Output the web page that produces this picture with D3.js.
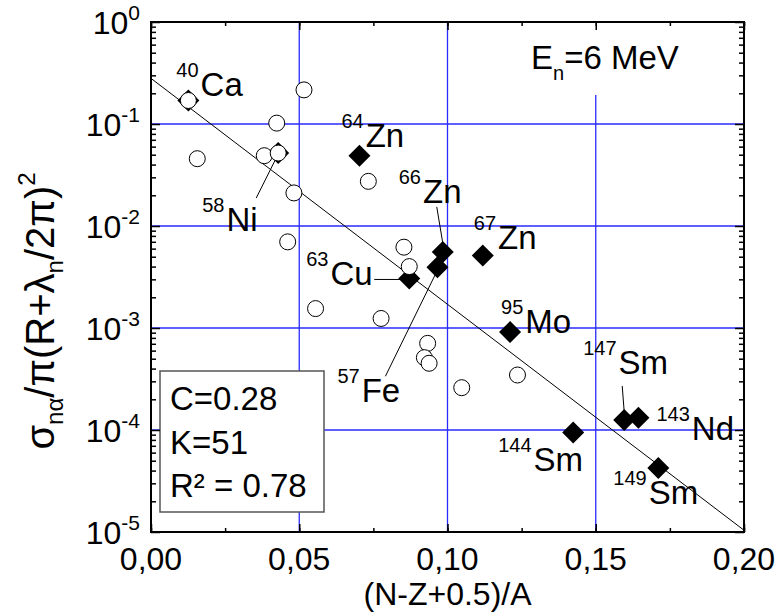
<!DOCTYPE html>
<html>
<head>
<meta charset="utf-8">
<script src="https://cdn.jsdelivr.net/npm/d3@7"></script>
<style>
  html, body { margin: 0; padding: 0; background: #fff; }
  svg text { font-family: "Liberation Sans", Arial, sans-serif; fill: #000; }
</style>
</head>
<body>
<svg id="chart" width="780" height="612"></svg>
<script>
// ---------------- data ----------------
const xTickValues = [0, 0.05, 0.10, 0.15, 0.20];
const xTickLabels = ["0,00", "0,05", "0,10", "0,15", "0,20"];
const yTickValues = [1, 1e-1, 1e-2, 1e-3, 1e-4, 1e-5];
const yTickExponents = ["0", "-1", "-2", "-3", "-4", "-5"];

// open circles (unlabelled nuclei)
const openX = [0.0156, 0.0424, 0.0382, 0.0482, 0.0516, 0.0733, 0.0461, 0.0853,
               0.0871, 0.0555, 0.0776, 0.0933, 0.0922, 0.0938, 0.1048, 0.1236,
               0.0126, 0.0429];
const openY = [0.0457, 0.102, 0.0489, 0.0211, 0.216, 0.0274, 0.00699, 0.0062,
               0.0040, 0.00155, 0.00124, 0.000707, 0.000512, 0.000451, 0.00026, 0.000346,
               0.170, 0.0519];

// filled diamonds (labelled nuclei)
const nucMass   = ["40", "58", "64", "63", "66", "57", "67", "95", "144", "147", "143", "149"];
const nucName   = ["Ca", "Ni", "Zn", "Cu", "Zn", "Fe", "Zn", "Mo", "Sm", "Sm", "Nd", "Sm"];
const nucX      = [0.0126, 0.0429, 0.0703, 0.0871, 0.0984, 0.0966, 0.1119, 0.1211, 0.1424, 0.1596, 0.1644, 0.1711];
const nucY      = [0.170, 0.0519, 0.0489, 0.00306, 0.00557, 0.00394, 0.00513, 0.000912, 9.45e-5, 1.256e-4, 1.32e-4, 4.23e-5];

// fit parameters  y = C * exp(-K x)
const fitC = 0.28;
const fitK = 51;
const fitR2 = "0.78";
const energyLabel = "6 MeV";

// ---------------- layout ----------------
const W = 780, H = 612;
const margin = { left: 151, right: 36, top: 22, bottom: 80 };
const plotL = margin.left, plotR = W - margin.right, plotT = margin.top, plotB = H - margin.bottom;

// label offsets (px, relative to marker): [labelDx, labelDy(baseline), leader]
const labelLayout = [
  { dx: -12, dy: -4 },
  { dx: -76, dy: 78, lead: [-22, 45, -2, 5] },
  { dx: -18, dy: -9 },
  { dx: -103, dy: 7, lead: [-35, 1, -7, 1] },
  { dx: -44, dy: -49, lead: [-6, -45, 0, -9] },
  { dx: -100, dy: 135, lead: [-52, 109, -2, 7] },
  { dx: -9, dy: -7 },
  { dx: -9, dy: 1 },
  { dx: -75, dy: 38 },
  { dx: -41, dy: -46, lead: [-2, -34, 0, -8] },
  { dx: 18, dy: 22 },
  { dx: -45, dy: 36 }
];

const bigFont = 33, supFont = 20;

// ---------------- scales ----------------
const x = d3.scaleLinear().domain([0, 0.2]).range([plotL, plotR]);
const y = d3.scaleLog().domain([1e-5, 1]).range([plotB, plotT]);

const svg = d3.select("#chart");

// grid lines
const grid = svg.append("g").attr("stroke", "#2a2aff").attr("stroke-width", 1.3);
grid.selectAll("line.h").data(yTickValues.slice(1, 5)).enter().append("line").attr("class", "h")
  .attr("x1", plotL).attr("x2", plotR).attr("y1", d => y(d)).attr("y2", d => y(d));
grid.selectAll("line.v").data(xTickValues.slice(1, 4)).enter().append("line").attr("class", "v")
  .attr("y1", plotT).attr("y2", plotB).attr("x1", d => x(d)).attr("x2", d => x(d));

// white background for energy label
svg.append("rect").attr("x", 522).attr("y", plotT + 1).attr("width", 170).attr("height", 72).attr("fill", "#fff");

// fit line
svg.append("line")
  .attr("x1", x(0)).attr("y1", y(fitC))
  .attr("x2", x(0.2)).attr("y2", y(fitC * Math.exp(-fitK * 0.2)))
  .attr("stroke", "#000").attr("stroke-width", 1);

// leader lines
const leaders = svg.append("g").attr("stroke", "#000").attr("stroke-width", 1);
nucX.forEach((vx, i) => {
  const L = labelLayout[i].lead;
  if (!L) return;
  const cx = x(vx), cy = y(nucY[i]);
  leaders.append("line").attr("x1", cx + L[0]).attr("y1", cy + L[1]).attr("x2", cx + L[2]).attr("y2", cy + L[3]);
});

// diamonds
const dSize = 11;
svg.append("g").selectAll("path").data(d3.range(nucX.length)).enter().append("path")
  .attr("d", i => {
    const cx = x(nucX[i]), cy = y(nucY[i]);
    return `M${cx},${cy - dSize}L${cx + dSize},${cy}L${cx},${cy + dSize}L${cx - dSize},${cy}Z`;
  })
  .attr("fill", "#000");

// open circles
svg.append("g").selectAll("circle").data(d3.range(openX.length)).enter().append("circle")
  .attr("cx", i => x(openX[i])).attr("cy", i => y(openY[i])).attr("r", 8)
  .attr("fill", "#fff").attr("stroke", "#000").attr("stroke-width", 1);

// nucleus labels
const labels = svg.append("g");
nucX.forEach((vx, i) => {
  const lay = labelLayout[i];
  const t = labels.append("text")
    .attr("x", x(vx) + lay.dx).attr("y", y(nucY[i]) + lay.dy);
  t.append("tspan").attr("font-size", supFont).attr("dy", -19).text(nucMass[i]);
  t.append("tspan").attr("font-size", bigFont).attr("dy", 19).attr("dx", 2).text(nucName[i]);
});

// legend box
const lg = svg.append("g");
lg.append("rect").attr("x", 160).attr("y", 371).attr("width", 164).attr("height", 141)
  .attr("fill", "#fff").attr("stroke", "#555").attr("stroke-width", 1.5);
const legendLines = ["C=" + fitC, "K=" + fitK, "R\u00B2 = " + fitR2];
lg.selectAll("text").data(legendLines).enter().append("text")
  .attr("x", 170).attr("y", (d, i) => 410 + i * 43.5)
  .attr("font-size", bigFont).text(d => d);

// energy label
const en = svg.append("text").attr("x", 531).attr("y", 69).attr("font-size", bigFont);
en.append("tspan").text("E");
en.append("tspan").attr("font-size", supFont).attr("dy", 11).text("n");
en.append("tspan").attr("dy", -11).text("=" + energyLabel);

// axes (ticks inward)
const axG = svg.append("g");
const xMinor = d3.range(0, 9).map(i => i * 0.025);
const yMinor = [];
for (let e = -5; e < 0; e++) for (let m = 2; m <= 9; m++) yMinor.push(m * Math.pow(10, e));

function drawAxis(axis, tr) {
  const g = axG.append("g").attr("transform", tr).call(axis);
  g.selectAll("path.domain").remove();
  g.selectAll("text").remove();
  g.selectAll("line").attr("stroke", "#000").attr("stroke-width", 1.5);
  return g;
}
drawAxis(d3.axisBottom(x).tickValues(xMinor).tickSize(-4), `translate(0,${plotB})`);
drawAxis(d3.axisBottom(x).tickValues(xTickValues).tickSize(-8), `translate(0,${plotB})`);
drawAxis(d3.axisTop(x).tickValues(xMinor).tickSize(-4), `translate(0,${plotT})`);
drawAxis(d3.axisTop(x).tickValues(xTickValues).tickSize(-8), `translate(0,${plotT})`);
drawAxis(d3.axisLeft(y).tickValues(yMinor).tickSize(-5), `translate(${plotL},0)`);
drawAxis(d3.axisLeft(y).tickValues(yTickValues).tickSize(-9), `translate(${plotL},0)`);
drawAxis(d3.axisRight(y).tickValues(yMinor).tickSize(-5), `translate(${plotR},0)`);
drawAxis(d3.axisRight(y).tickValues(yTickValues).tickSize(-9), `translate(${plotR},0)`);

// frame
axG.append("rect").attr("x", plotL).attr("y", plotT).attr("width", plotR - plotL).attr("height", plotB - plotT)
  .attr("fill", "none").attr("stroke", "#000").attr("stroke-width", 2);

// x tick labels
svg.append("g").selectAll("text").data(xTickValues).enter().append("text")
  .attr("x", d => x(d)).attr("y", plotB + 38).attr("text-anchor", "middle")
  .attr("font-size", 32).text((d, i) => xTickLabels[i]);

// y tick labels
yTickValues.forEach((v, i) => {
  const t = svg.append("text").attr("x", plotL - 11).attr("y", y(v) + 12).attr("text-anchor", "end").attr("font-size", 32);
  t.append("tspan").text("10");
  t.append("tspan").attr("font-size", 21).attr("dy", -14).text(yTickExponents[i]);
});

// axis titles
svg.append("text").attr("x", (plotL + plotR) / 2).attr("y", 605).attr("text-anchor", "middle")
  .attr("font-size", 32).text("(N-Z+0.5)/A");

const yt = svg.append("text").attr("transform", `translate(54,311) rotate(-90)`)
  .attr("text-anchor", "middle").attr("font-size", 40);
yt.append("tspan").text("\u03C3");
yt.append("tspan").attr("font-size", 24).attr("dy", 9).text("n\u03B1");
yt.append("tspan").attr("dy", -9).text("/\u03C0(R+\u03BB");
yt.append("tspan").attr("font-size", 24).attr("dy", 9).text("n");
yt.append("tspan").attr("dy", -9).text("/2\u03C0)");
yt.append("tspan").attr("font-size", 24).attr("dy", -19).text("2");
</script>
</body>
</html>
